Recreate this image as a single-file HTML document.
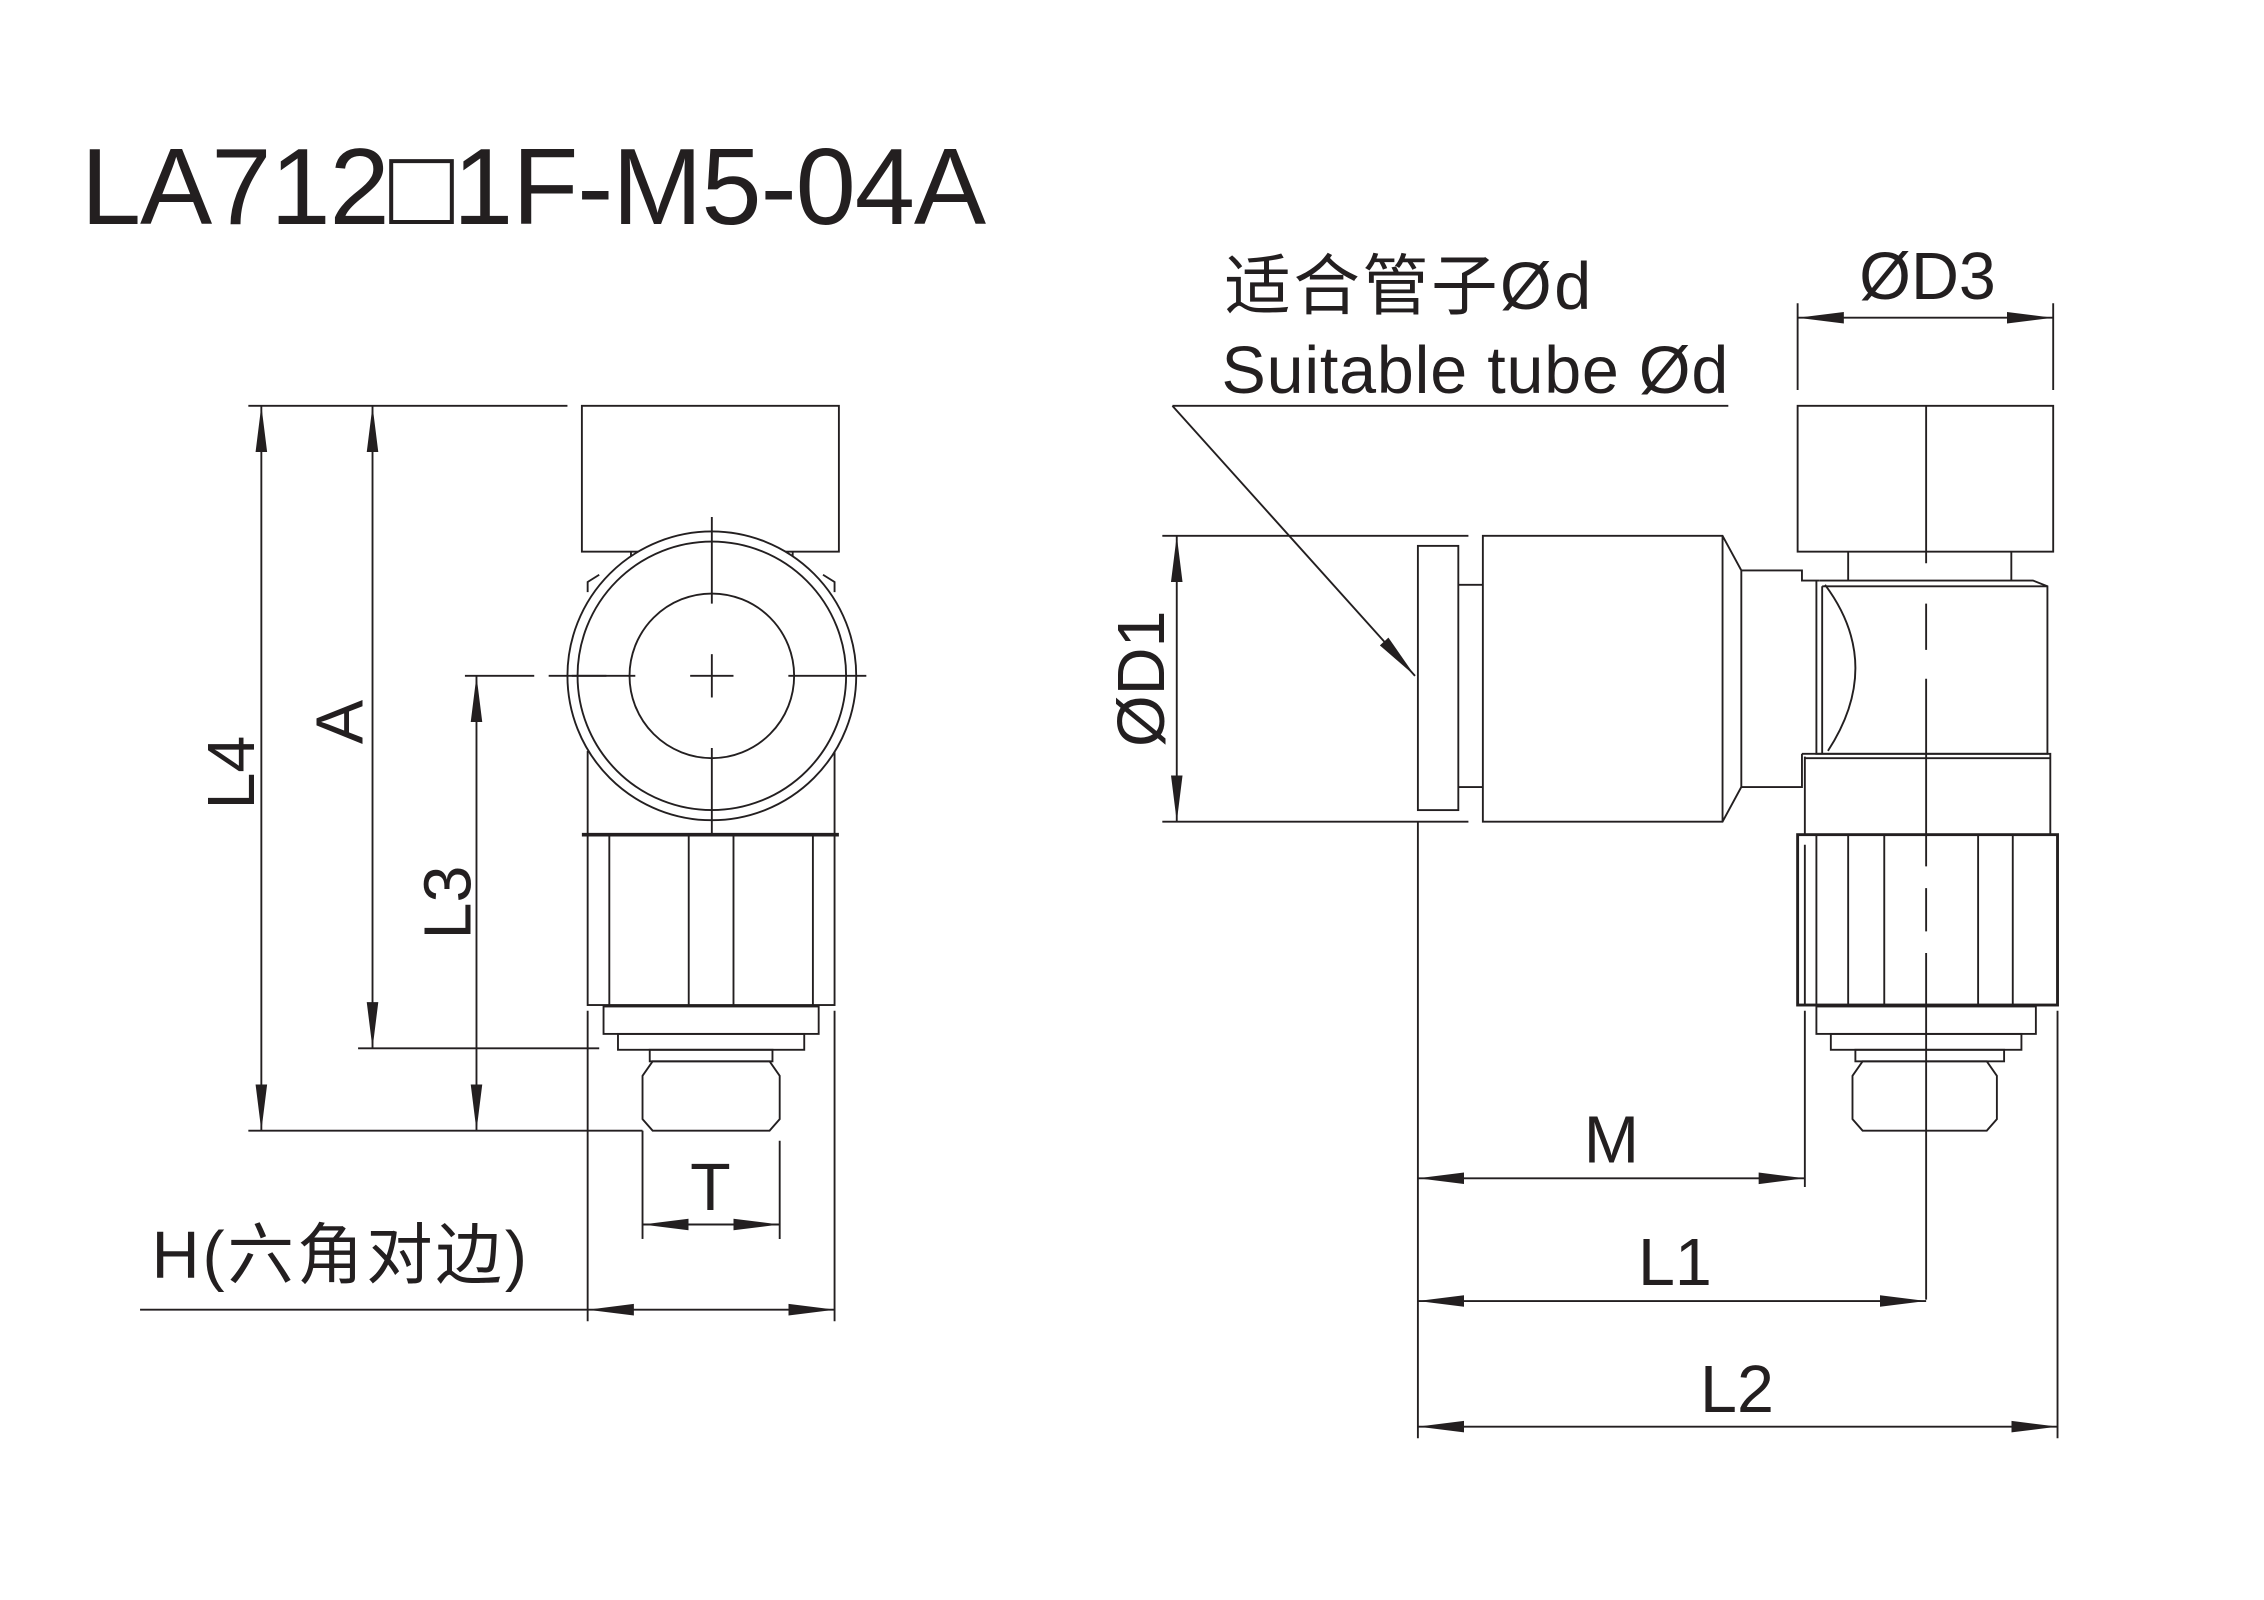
<!DOCTYPE html>
<html><head><meta charset="utf-8"><style>
html,body{margin:0;padding:0;background:#fff;}
svg{display:block;}
text{font-family:"Liberation Sans","Noto Sans CJK SC",sans-serif;fill:#231f20;}
</style></head><body>
<svg width="2264" height="1600" viewBox="0 0 1568 1108" xmlns="http://www.w3.org/2000/svg">
<defs>
<marker id="a" viewBox="0 0 32 10" refX="32" refY="5" markerWidth="32" markerHeight="10" markerUnits="userSpaceOnUse" orient="auto-start-reverse">
<path d="M32,5 L0,1 L0,9 Z" fill="#231f20"/>
</marker>
</defs>
<text x="56" y="155" font-size="75" textLength="627">LA712□1F-M5-04A</text>
<g stroke="#231f20" stroke-width="1.3" fill="none">
<line x1="172" y1="281" x2="393" y2="281"/>
<line x1="172" y1="783" x2="445" y2="783"/>
<line x1="445" y1="783" x2="445" y2="858"/>
<line x1="540" y1="790" x2="540" y2="858"/>
<line x1="248" y1="726" x2="415" y2="726"/>
<line x1="322" y1="468" x2="370" y2="468"/>
<line x1="181" y1="281" x2="181" y2="783" marker-start="url(#a)" marker-end="url(#a)"/>
<line x1="258" y1="281" x2="258" y2="726" marker-start="url(#a)" marker-end="url(#a)"/>
<line x1="330" y1="468" x2="330" y2="783" marker-start="url(#a)" marker-end="url(#a)"/>
<line x1="445" y1="848" x2="540" y2="848" marker-start="url(#a)" marker-end="url(#a)"/>
<line x1="97" y1="907" x2="407" y2="907"/>
<line x1="407" y1="907" x2="578" y2="907" marker-start="url(#a)" marker-end="url(#a)"/>
<line x1="407" y1="700" x2="407" y2="915"/>
<line x1="578" y1="700" x2="578" y2="915"/>
<rect x="403" y="281" width="178" height="101"/>
<line x1="437" y1="382" x2="437" y2="390"/><line x1="549" y1="382" x2="549" y2="390"/>
<path d="M407,410 L407,403 L415,398 M578,410 L578,403 L570,398"/>
<line x1="407" y1="520" x2="407" y2="578"/><line x1="578" y1="520" x2="578" y2="578"/>
<circle cx="493" cy="468" r="100" fill="#fff"/>
<circle cx="493" cy="468" r="93"/>
<circle cx="493" cy="468" r="57"/>
<line x1="380" y1="468" x2="420" y2="468"/><line x1="396" y1="468" x2="440" y2="468"/>
<line x1="478" y1="468" x2="508" y2="468"/><line x1="546" y1="468" x2="600" y2="468"/>
<line x1="493" y1="358" x2="493" y2="418"/>
<line x1="493" y1="453" x2="493" y2="483"/><line x1="493" y1="518" x2="493" y2="578"/>
<line x1="403" y1="578" x2="581" y2="578" stroke-width="2.5"/>
<rect x="407" y="578" width="171" height="118"/>
<line x1="422" y1="578" x2="422" y2="696"/><line x1="477" y1="578" x2="477" y2="696"/>
<line x1="508" y1="578" x2="508" y2="696"/><line x1="563" y1="578" x2="563" y2="696"/>
<rect x="418" y="697" width="149" height="19"/>
<rect x="428" y="716" width="129" height="11"/>
<rect x="450" y="727" width="85" height="8"/>
<path d="M452,735 L533,735 L540,745 L540,775 L533,783 L452,783 L445,775 L445,745 Z"/>
<line x1="812" y1="281" x2="1197" y2="281"/>
<line x1="812" y1="281" x2="980" y2="468" marker-end="url(#a)"/>
<line x1="1245" y1="210" x2="1245" y2="270"/><line x1="1422" y1="210" x2="1422" y2="270"/>
<line x1="1245" y1="220" x2="1422" y2="220" marker-start="url(#a)" marker-end="url(#a)"/>
<line x1="805" y1="371" x2="1017" y2="371"/><line x1="805" y1="569" x2="1017" y2="569"/>
<line x1="815" y1="371" x2="815" y2="569" marker-start="url(#a)" marker-end="url(#a)"/>
<rect x="1245" y="281" width="177" height="101"/>
<line x1="1280" y1="382" x2="1280" y2="402"/><line x1="1393" y1="382" x2="1393" y2="402"/>
<rect x="982" y="378" width="28" height="183"/>
<line x1="1010" y1="405" x2="1027" y2="405"/><line x1="1010" y1="545" x2="1027" y2="545"/>
<path d="M1027,371 L1193,371 L1206,395 L1206,545 L1193,569 L1027,569 Z"/>
<line x1="1193" y1="371" x2="1193" y2="569"/>
<path d="M1206,395 L1248,395 L1248,402 L1260,402 M1206,545 L1248,545 L1248,522"/>
<path d="M1260,402 L1408,402 L1418,406 L1418,522 L1258,522 L1258,402"/>
<line x1="1262" y1="406" x2="1418" y2="406"/>
<line x1="1262" y1="406" x2="1262" y2="522"/>
<path d="M1264,405 Q1305,460 1266,520"/>
<path d="M1248,522 L1420,522 L1420,578 L1250,578 L1250,524"/>
<line x1="1250" y1="525" x2="1420" y2="525"/>
<rect x="1245" y="578" width="180" height="118" stroke-width="2"/>
<line x1="1250" y1="585" x2="1250" y2="696"/>
<line x1="1258" y1="578" x2="1258" y2="696"/><line x1="1280" y1="578" x2="1280" y2="696"/>
<line x1="1305" y1="578" x2="1305" y2="696"/><line x1="1370" y1="578" x2="1370" y2="696"/>
<line x1="1394" y1="578" x2="1394" y2="696"/>
<rect x="1258" y="697" width="152" height="19"/>
<rect x="1268" y="716" width="132" height="11"/>
<rect x="1285" y="727" width="103" height="8"/>
<path d="M1290,735 L1376,735 L1383,745 L1383,775 L1376,783 L1290,783 L1283,775 L1283,745 Z"/>
<path d="M1334,281 L1334,390 M1334,418 L1334,450 M1334,470 L1334,600 M1334,615 L1334,645 M1334,660 L1334,900"/>
<line x1="982" y1="569" x2="982" y2="996"/>
<line x1="1250" y1="700" x2="1250" y2="822"/>
<line x1="1425" y1="700" x2="1425" y2="996"/>
<line x1="982" y1="816" x2="1250" y2="816" marker-start="url(#a)" marker-end="url(#a)"/>
<line x1="982" y1="901" x2="1334" y2="901" marker-start="url(#a)" marker-end="url(#a)"/>
<line x1="982" y1="988" x2="1425" y2="988" marker-start="url(#a)" marker-end="url(#a)"/>
</g>
<g font-size="46">
<text x="160" y="535" text-anchor="middle" transform="rotate(-90 160 535)" dy="16">L4</text>
<text x="235" y="500" text-anchor="middle" transform="rotate(-90 235 500)" dy="16">A</text>
<text x="310" y="625" text-anchor="middle" transform="rotate(-90 310 625)" dy="16">L3</text>
<text x="492" y="838" text-anchor="middle">T</text>
<text x="105" y="885" textLength="260">H(六角对边)</text>
<text x="848" y="214" textLength="254">适合管子Ød</text>
<text x="846" y="272" textLength="351">Suitable tube Ød</text>
<text x="1335" y="207" text-anchor="middle">ØD3</text>
<text x="790" y="470" text-anchor="middle" transform="rotate(-90 790 470)" dy="16">ØD1</text>
<text x="1116" y="805" text-anchor="middle">M</text>
<text x="1160" y="890" text-anchor="middle">L1</text>
<text x="1203" y="978" text-anchor="middle">L2</text>
</g>
</svg>
</body></html>
